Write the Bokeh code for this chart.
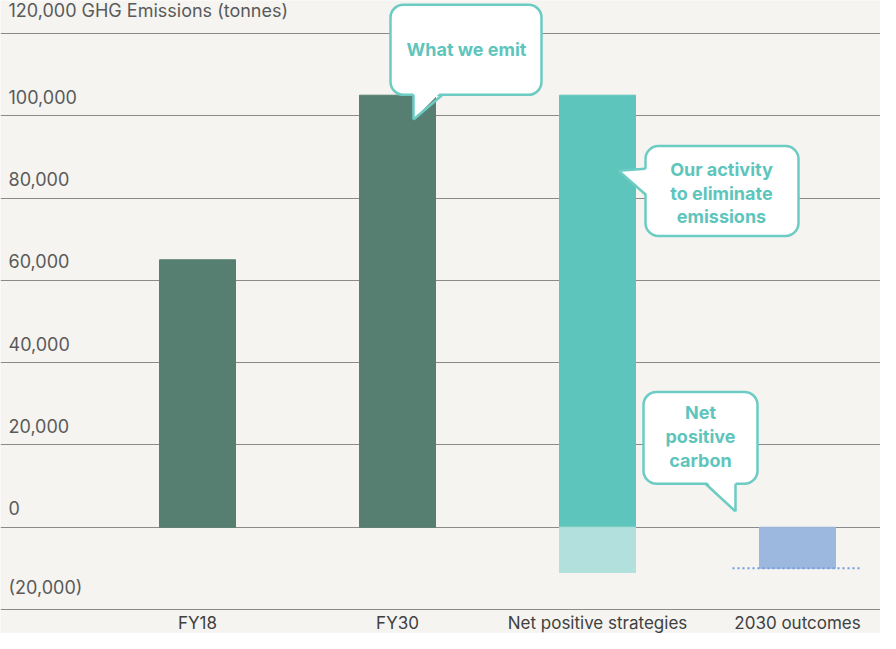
from bokeh.plotting import figure
from bokeh.models import Range1d, FixedTicker, ColumnDataSource
from bokeh.core.properties import value
from bokeh.embed import file_html
from bokeh.resources import INLINE

# ---------------- data ----------------
categories = ["FY18", "FY30", "Net positive strategies", "2030 outcomes"]
emissions = [65000, 105000]                 # FY18, FY30 (what we emit)
eliminate = [105000]                        # net positive strategies: activity to eliminate emissions
offsets = [-11000]                          # net positive strategies: below-zero portion
outcome = [-10000]                          # 2030 outcomes
target_level = -10000                       # dotted target line
y_ticks = [120000, 100000, 80000, 60000, 40000, 20000, 0, -20000]
y_tick_labels = ["120,000", "100,000", "80,000", "60,000", "40,000", "20,000", "0", "(20,000)"]
y_axis_title = "GHG Emissions (tonnes)"
callout_emit = ["What we emit"]
callout_eliminate = ["Our activity", "to eliminate", "emissions"]
callout_net = ["Net", "positive", "carbon"]

# ---------------- style ----------------
BG = "#f5f4f0"
DARK = "#567e71"
TEAL = "#5ec5bc"
TEAL_LIGHT = "#b2e0dc"
BLUE = "#9db8df"
BLUE_DOT = "#6f9ce0"
BUBBLE_LINE = "#6ccbc3"
BUBBLE_TEXT = "#5ec5bc"
GRID = "#8a8a8a"
FONT = "Inter"
BAR_W = 0.38
X0, X1 = -0.985, 3.415
Y0, Y1 = -25830, 128020

x_idx = list(range(len(categories)))

p = figure(width=880, height=633,
           x_range=Range1d(X0, X1), y_range=Range1d(Y0, Y1),
           output_backend="svg", toolbar_location=None,
           min_border_left=0, min_border_right=0, min_border_top=0, min_border_bottom=0)
p.background_fill_color = BG
p.border_fill_color = BG
p.outline_line_color = None

p.axis.visible = False
p.xgrid.visible = False
p.ygrid.ticker = FixedTicker(ticks=y_ticks)
p.ygrid.grid_line_color = GRID
p.ygrid.grid_line_width = 1

# y tick labels (drawn above the grid lines, at the left)
lbls = list(y_tick_labels)
lbls[0] = lbls[0] + "  " + y_axis_title
ysrc = ColumnDataSource(dict(x=[X0] * len(y_ticks), y=y_ticks, t=lbls))
p.text(x="x", y="y", text="t", source=ysrc, x_offset=8, y_offset=-12,
       text_baseline="bottom", text_align="left", text_font=value(FONT),
       text_font_size="18px", text_color="#5a5a5a")

# category labels, just below the lowest grid line
csrc = ColumnDataSource(dict(x=x_idx, y=[y_ticks[-1]] * len(x_idx), t=categories))
p.text(x="x", y="y", text="t", source=csrc, y_offset=13,
       text_baseline="middle", text_align="center", text_font=value(FONT),
       text_font_size="17px", text_color="#404040")

# bars
p.vbar(x=x_idx[:2], top=emissions, bottom=0, width=BAR_W, color=DARK)
p.vbar(x=[x_idx[2]], top=eliminate, bottom=0, width=BAR_W, color=TEAL)
p.vbar(x=[x_idx[2]], top=0, bottom=offsets, width=BAR_W, color=TEAL_LIGHT)
p.vbar(x=[x_idx[3]], top=0, bottom=outcome, width=BAR_W, color=BLUE)
p.line(x=[x_idx[3] - 0.325, x_idx[3] + 0.325], y=[target_level, target_level],
       line_color=BLUE_DOT, line_width=2, line_dash="2 3")


def bubble(l, r, t, b, tail_fill, tail_lines, lines, tx, ty0, dy):
    p.quad(left=l, right=r, top=t, bottom=b, fill_color="white",
           line_color=BUBBLE_LINE, line_width=2.5, border_radius=13)
    p.patch(x=tail_fill[0], y=tail_fill[1], fill_color="white", line_color=None)
    p.multi_line(xs=tail_lines[0], ys=tail_lines[1], line_color=BUBBLE_LINE,
                 line_width=2.5, line_join="round")
    p.text(x=[tx] * len(lines), y=[ty0 - i * dy for i in range(len(lines))], text=lines,
           text_align="center", text_baseline="middle", text_font=value(FONT),
           text_font_style="bold", text_font_size="18px", text_color=BUBBLE_TEXT)


# "What we emit"
bubble(0.965, 1.72, 127000, 105100,
       ([1.08, 1.225, 1.08], [106200, 106200, 99100]),
       ([[1.08, 1.08], [1.225, 1.08]], [[105100, 99100], [105100, 99100]]),
       callout_emit, 1.345, 116200, 0)

# "Our activity to eliminate emissions"
bubble(2.24, 3.005, 92640, 70800,
       ([2.25, 2.105, 2.25], [87120, 86640, 80880]),
       ([[2.24, 2.105], [2.105, 2.24]], [[87120, 86640], [86640, 80880]]),
       callout_eliminate, 2.62, 86880, 5700)

# "Net positive carbon"
bubble(2.23, 2.80, 32880, 10560,
       ([2.54, 2.69, 2.69], [11300, 11300, 3840]),
       ([[2.54, 2.69], [2.69, 2.69]], [[10560, 3840], [10560, 3840]]),
       callout_net, 2.515, 27840, 5760)

open("out.html", "w").write(file_html(p, INLINE))
